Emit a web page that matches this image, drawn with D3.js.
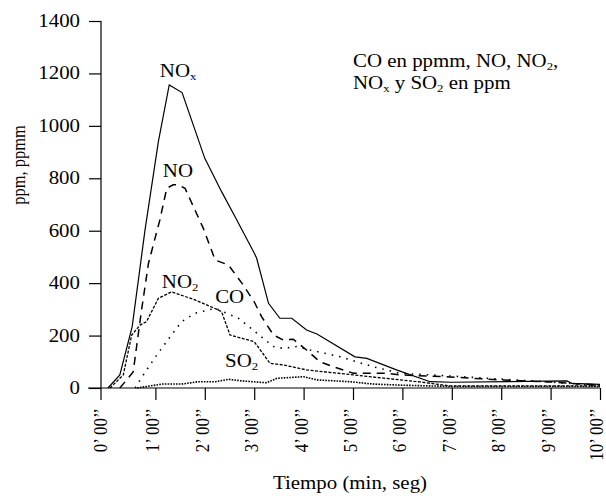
<!DOCTYPE html>
<html>
<head>
<meta charset="utf-8">
<script src="https://cdn.jsdelivr.net/npm/d3@7"></script>
<style>
  body { margin: 0; background: #fff; }
</style>
</head>
<body>
<div id="chart"></div>
<script>
// data: time in minutes, concentration in ppm / ppmm
var noxT   = [0.04, 0.28, 0.53, 0.79, 1.06, 1.28, 1.54, 2.00, 2.34, 2.61, 3.00, 3.05, 3.29, 3.52, 3.76, 4.06, 4.27, 5.04, 5.28, 5.88, 6.56, 7.00, 9.33, 9.43, 10];
var noxV   = [0, 50, 234, 603, 940, 1156, 1127, 876, 749, 654, 515, 495, 323, 266, 266, 221, 206, 119, 113, 69, 24, 22, 27, 18, 14];

var noT    = [0.28, 0.55, 0.72, 0.86, 1.09, 1.23, 1.36, 1.46, 1.60, 1.97, 2.21, 2.48, 2.75, 3.00, 3.15, 3.39, 3.59, 3.79, 4.06, 4.33, 4.60, 5.01, 5.68, 5.95, 6.96, 7.98, 8.99, 10];
var noV    = [0, 61, 298, 476, 641, 762, 775, 775, 762, 609, 488, 469, 400, 329, 272, 202, 183, 186, 145, 100, 81, 56, 56, 50, 42, 31, 23, 11];

var no2T   = [0.08, 0.35, 0.52, 0.69, 0.82, 1.06, 1.33, 1.80, 2.27, 2.34, 2.51, 3.00, 3.32, 3.59, 4.06, 5.01, 5.95, 6.36, 6.96, 10];
var no2V   = [0, 50, 202, 240, 253, 342, 367, 336, 298, 291, 202, 177, 94, 88, 69, 50, 31, 23, 8, 8];

var coT    = [0.59, 0.69, 0.98, 1.30, 1.53, 1.80, 2.21, 2.68, 2.98, 3.39, 3.59, 3.86, 4.13, 4.74, 5.41, 5.95, 6.96, 7.98, 8.99, 10];
var coV    = [0, 31, 113, 196, 253, 285, 304, 266, 221, 158, 151, 158, 145, 119, 81, 56, 46, 34, 23, 8];

var so2T   = [0.63, 1.13, 1.53, 1.87, 2.21, 2.48, 2.75, 3.25, 3.46, 4.00, 4.27, 4.94, 5.41, 5.95, 6.96, 10];
var so2V   = [0, 15, 15, 24, 24, 33, 27, 20, 37, 43, 31, 24, 15, 11, 6, 6];

var yTicks = [0, 200, 400, 600, 800, 1000, 1200, 1400];
var xTicks = [0, 1, 2, 3, 4, 5, 6, 7, 8, 9, 10];
var xTickLabels = ["0’ 00’’", "1’ 00’’", "2’ 00’’", "3’ 00’’", "4’ 00’’", "5’ 00’’",
                   "6’ 00’’", "7’ 00’’", "8’ 00’’", "9’ 00’’", "10’ 00’’"];

var width = 606, height = 496;
var serif = "'Liberation Serif', 'Times New Roman', Times, serif";
var stretch = 1.16;   // the type in the picture is a bit wide

var svg = d3.select("#chart")
  .append("svg")
    .attr("width", width)
    .attr("height", height)
    .attr("font-family", serif);

var x = d3.scaleLinear().domain([0, 10]).range([106, 600]);
var y = d3.scaleLinear().domain([0, 1400]).range([388, 21]);
var axisX = x(0) - 5;   // the vertical axis sits a little left of 0'

// wide horizontal text
function wideText(parent, px, py, size, anchor) {
  return parent.append("text")
      .attr("transform", "translate(" + px + "," + py + ") scale(" + stretch + ",1)")
      .attr("font-family", serif)
      .attr("font-size", size)
      .attr("text-anchor", anchor || "start")
      .attr("fill", "#000");
}

// y axis
var gy = svg.append("g")
    .attr("transform", "translate(" + axisX + ",0)")
    .call(d3.axisLeft(y).tickValues(yTicks).tickSize(12).tickFormat(""));
gy.select(".domain").remove();
gy.append("line")
    .attr("x1", 0).attr("x2", 0)
    .attr("y1", y(1400)).attr("y2", y(0) + 12)
    .attr("stroke", "#000").attr("stroke-width", 1.2);
gy.selectAll(".tick line").attr("stroke", "#000").attr("stroke-width", 1.2);

yTicks.forEach(function(d) {
  wideText(svg, axisX - 21, y(d) + 6, 18, "end").text(d);
});

// x axis
var gx = svg.append("g")
    .attr("transform", "translate(0," + y(0) + ")")
    .call(d3.axisBottom(x).tickValues(xTicks.slice(1)).tickSize(12).tickFormat(""));
gx.select(".domain").remove();
gx.append("line")
    .attr("x1", axisX - 13).attr("x2", x(10))
    .attr("y1", 0).attr("y2", 0)
    .attr("stroke", "#000").attr("stroke-width", 1.2);
gx.selectAll(".tick line").attr("stroke", "#000").attr("stroke-width", 1.2);

// rotated tick labels
svg.append("g").selectAll("text")
  .data(xTicks)
  .enter().append("text")
    .attr("transform", function(d) {
      var px = d === 0 ? axisX + 6 : Math.min(x(d) + 4, 603);
      return "translate(" + px + "," + (y(0) + 20) + ") rotate(-90) scale(1," + stretch + ")";
    })
    .attr("text-anchor", "end")
    .attr("font-family", serif)
    .attr("font-size", 17)
    .text(function(d, i) { return xTickLabels[i]; });

// axis titles
wideText(svg, 350, 489, 18, "middle").text("Tiempo (min, seg)");

svg.append("text")
    .attr("transform", "translate(25,165) rotate(-90) scale(1," + stretch + ")")
    .attr("text-anchor", "middle")
    .attr("font-family", serif)
    .attr("font-size", 16.5)
    .text("ppm, ppmm");

// series lines
var line = d3.line()
    .x(function(d) { return x(d[0]); })
    .y(function(d) { return y(d[1]); });

function pairs(t, v) { return t.map(function(d, i) { return [d, v[i]]; }); }

var series = [
  {data: pairs(so2T, so2V), dash: "1.6,1.2", w: 1.6},
  {data: pairs(coT, coV),   dash: "1.5,6",   w: 1.6},
  {data: pairs(no2T, no2V), dash: "3,1.5",   w: 1.3},
  {data: pairs(noT, noV),   dash: "8,6",     w: 1.5},
  {data: pairs(noxT, noxV), dash: null,      w: 1.2}
];

svg.append("g").selectAll("path")
  .data(series)
  .enter().append("path")
    .attr("d", function(d) { return line(d.data); })
    .attr("fill", "none")
    .attr("stroke", "#000")
    .attr("stroke-width", function(d) { return d.w; })
    .attr("stroke-dasharray", function(d) { return d.dash; });

// series labels (name, subscript, anchor in data units)
var labels = [
  {name: "NO", sub: "x", t: 1.09, v: 1187},
  {name: "NO", sub: "",  t: 1.15, v: 805},
  {name: "NO", sub: "2", t: 1.13, v: 381},
  {name: "CO", sub: "",  t: 2.21, v: 324},
  {name: "SO", sub: "2", t: 2.41, v: 80}
];

labels.forEach(function(l) {
  var t = wideText(svg, x(l.t), y(l.v), 18);
  t.append("tspan").text(l.name);
  if (l.sub) t.append("tspan").attr("font-size", 11).attr("dy", 3).text(l.sub);
});

// note in the top right corner
var note = wideText(svg, 353, 67, 18);
note.append("tspan").text("CO en ppmm, NO, NO");
note.append("tspan").attr("font-size", 11).attr("dy", 3).text("2");
note.append("tspan").attr("dy", -3).text(",");

var note2 = wideText(svg, 353, 89, 18);
note2.append("tspan").text("NO");
note2.append("tspan").attr("font-size", 11).attr("dy", 3).text("x");
note2.append("tspan").attr("dy", -3).text(" y SO");
note2.append("tspan").attr("font-size", 11).attr("dy", 3).text("2");
note2.append("tspan").attr("dy", -3).text(" en ppm");
</script>
</body>
</html>
